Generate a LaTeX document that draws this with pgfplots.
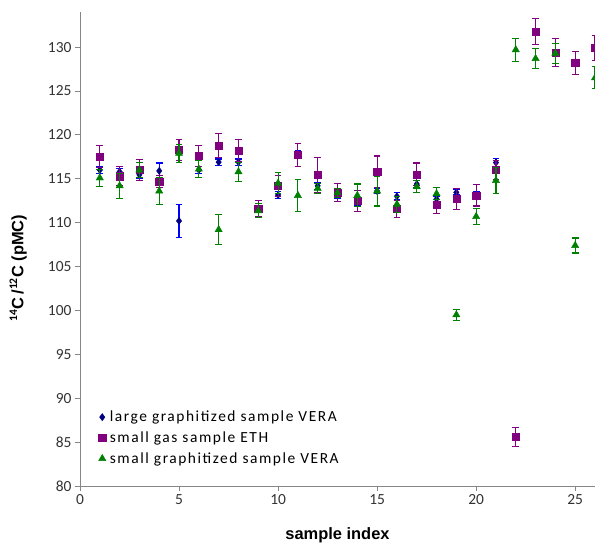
\documentclass[border=0pt]{standalone}
\usepackage{fontspec}
\setmainfont{Carlito}
\newfontfamily\labfont{Liberation Sans}
\newfontfamily\legfont[LetterSpace=10]{Carlito}
\usepackage{pgfplots}
\usepackage{pgfplotstable}
\pgfplotsset{compat=1.18}

\definecolor{veraNavy}{HTML}{000080}
\definecolor{veraBar}{HTML}{0000FF}
\definecolor{ethPurple}{HTML}{800080}
\definecolor{veraGreen}{HTML}{008000}
\definecolor{axGray}{HTML}{868686}

% large graphitized sample VERA
\pgfplotstableread{
x y e
1 116.0 0.4
2 115.8 0.4
3 115.45 0.4
4 115.9 0.9
5 110.2 1.85
6 116.0 0.4
7 116.9 0.35
8 116.9 0.35
9 111.5 0.3
10 113.15 0.35
11 117.8 0.4
12 114.2 0.4
13 113.2 0.4
14 112.2 0.3
15 113.6 0.3
16 113.0 0.4
17 114.4 0.4
18 112.7 0.3
19 113.45 0.3
20 113.2 0.3
21 116.85 0.5
}\largeVERA

% small gas sample ETH
\pgfplotstableread{
x y e
1 117.5 1.25
2 115.3 1.1
3 116.0 1.2
4 114.7 0.7
5 118.3 1.2
6 117.6 1.15
7 118.8 1.4
8 118.2 1.25
9 111.6 0.9
10 114.2 1.2
11 117.7 1.3
12 115.45 2.0
13 113.45 1.05
14 112.5 1.2
15 115.8 1.8
16 111.55 0.95
17 115.5 1.3
18 112.05 1.0
19 112.7 1.15
20 113.1 1.2
21 116.0 1.1
22 85.6 1.1
23 131.75 1.5
24 129.4 1.6
25 128.2 1.3
26 129.9 1.4
}\smallETH

% small graphitized sample VERA
\pgfplotstableread{
x y e
1 115.1 0.95
2 114.2 1.4
3 116.0 0.9
4 113.6 1.55
5 117.9 1.0
6 116.1 1.0
7 109.2 1.7
8 115.8 1.1
9 111.35 0.8
10 114.5 1.2
11 113.1 1.8
12 113.9 0.6
13 113.4 0.5
14 113.1 1.3
15 113.6 1.7
16 112.1 0.9
17 114.1 0.7
18 113.3 0.7
19 99.5 0.6
20 110.7 0.9
21 114.8 1.5
22 129.7 1.3
23 128.7 1.1
24 129.3 1.15
25 107.4 0.85
26 126.5 1.25
}\smallVERA

\pgfplotsset{
    errplot/.style={only marks,
        error bars/.cd, y dir=both, y explicit, error mark=none,
        error bar style={color=#1, line width=1.1bp}},
    % error-bar caps: short horizontal strokes at y+e and y-e
    capplot/.style={forget plot, no markers, quiver={u=0.34, v=0},
        quiver/every arrow/.style={draw=#1, line width=1.1bp, -}},
}

\begin{document}
\begin{tikzpicture}
\useasboundingbox (-80bp,-58bp) rectangle (515bp,486bp);
\begin{axis}[
    at={(0,0)}, anchor=south west,
    scale only axis, width=515bp, height=474bp,
    xmin=0, xmax=26, ymin=80, ymax=134,
    xtick={0,5,...,25}, ytick={80,85,...,130},
    axis x line=bottom, axis y line=left,
    axis line style={axGray, line width=0.8bp, -},
    tick align=outside, major tick length=5bp,
    tick style={axGray, line width=0.8bp},
    tick label style={font=\fontsize{15.5}{18}\selectfont, text=black!80},
    /pgf/number format/assume math mode=true,
    xlabel={\labfont\bfseries sample index},
    ylabel={\labfont\bfseries $^{\mathbf{14}}$C\,/$^{\mathbf{12}}$C (pMC)},
    label style={font=\fontsize{16.5}{19}\selectfont},
    xlabel style={at={(axis description cs:0.5,-0.103)}, anchor=center},
    ylabel style={at={(axis description cs:-0.12,0.46)}, anchor=center},
    legend style={at={(axis description cs:0.03,0.167)}, anchor=north west,
        draw=none, fill=none, row sep=4.5bp,
        /tikz/every odd column/.append style={column sep=2bp},
        font=\legfont\fontsize{15.5}{17}\selectfont},
    legend cell align=left,
    clip marker paths=true,
]
% --- large graphitized sample VERA ---
\addplot[capplot=veraBar] table[x expr=\thisrow{x}-0.17, y expr=\thisrow{y}+\thisrow{e}] {\largeVERA};
\addplot[capplot=veraBar] table[x expr=\thisrow{x}-0.17, y expr=\thisrow{y}-\thisrow{e}] {\largeVERA};
\addplot[mark=diamond*, mark size=3.6bp, color=veraNavy, errplot=veraBar]
    table[x=x, y=y, y error=e] {\largeVERA};
\addlegendentry{large graphitized sample VERA}
% --- small gas sample ETH ---
\addplot[capplot=ethPurple] table[x expr=\thisrow{x}-0.17, y expr=\thisrow{y}+\thisrow{e}] {\smallETH};
\addplot[capplot=ethPurple] table[x expr=\thisrow{x}-0.17, y expr=\thisrow{y}-\thisrow{e}] {\smallETH};
\addplot[mark=square*, mark size=3.6bp, color=ethPurple, errplot=ethPurple]
    table[x=x, y=y, y error=e] {\smallETH};
\addlegendentry{small gas sample ETH}
% --- small graphitized sample VERA ---
\addplot[capplot=veraGreen] table[x expr=\thisrow{x}-0.17, y expr=\thisrow{y}+\thisrow{e}] {\smallVERA};
\addplot[capplot=veraGreen] table[x expr=\thisrow{x}-0.17, y expr=\thisrow{y}-\thisrow{e}] {\smallVERA};
\addplot[mark=triangle*, mark size=4.2bp, color=veraGreen, errplot=veraGreen]
    table[x=x, y=y, y error=e] {\smallVERA};
\addlegendentry{small graphitized sample VERA}
\end{axis}
\end{tikzpicture}
\end{document}
